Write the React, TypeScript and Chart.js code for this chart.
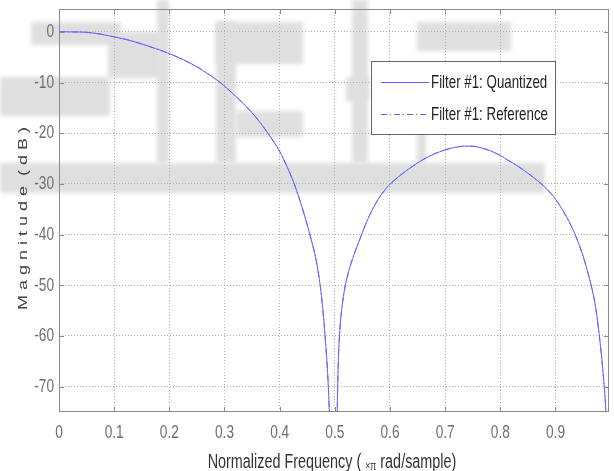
import React, { useEffect, useRef } from 'react';
import { Chart, registerables } from 'chart.js';

Chart.register(...registerables);

// ---- data ----
const freq = [0, 0.025, 0.05, 0.075, 0.1, 0.125, 0.15, 0.175, 0.2, 0.225, 0.25, 0.27, 0.285, 0.3, 0.32, 0.34, 0.358, 0.38, 0.4, 0.415, 0.425, 0.435, 0.446, 0.456, 0.466, 0.474, 0.4805, 0.485, 0.488, 0.49, 0.4925, 0.4975, 0.502, 0.5045, 0.506, 0.509, 0.513, 0.518, 0.525, 0.535, 0.545, 0.555, 0.566, 0.58, 0.598, 0.62, 0.64, 0.66, 0.68, 0.7, 0.715, 0.73, 0.745, 0.76, 0.78, 0.8, 0.815, 0.833, 0.85, 0.87, 0.885, 0.9, 0.912, 0.924, 0.936, 0.948, 0.958, 0.966, 0.973, 0.979, 0.984, 0.988, 0.991, 0.994, 0.997];
const magQuantized = [0, -0.02, -0.1, -0.45, -1.0, -1.6, -2.4, -3.3, -4.3, -5.5, -6.9, -8.3, -9.4, -10.7, -12.7, -14.8, -17.0, -20.2, -23.6, -27.0, -29.6, -32.7, -36.6, -40.5, -45, -50.5, -57.5, -64, -69.5, -75, -85, -95, -95, -74, -66, -59, -54.3, -50.6, -47.3, -43.9, -41.0, -38.2, -35.5, -32.8, -30.3, -28.2, -26.6, -25.2, -24.1, -23.3, -22.85, -22.6, -22.55, -22.75, -23.4, -24.4, -25.4, -26.6, -27.9, -29.6, -31.1, -33, -35, -37.3, -40.1, -43.6, -47.2, -50.6, -54.5, -59.5, -64.5, -69.5, -74, -80, -88];
const magReference = [0, -0.02, -0.1, -0.45, -1.0, -1.6, -2.4, -3.3, -4.3, -5.5, -6.9, -8.3, -9.4, -10.7, -12.7, -14.8, -17.0, -20.2, -23.6, -27.0, -29.6, -32.7, -36.6, -40.5, -45, -50.5, -57.5, -64, -69.5, -75, -85, -95, -95, -74, -66, -59, -54.3, -50.6, -47.3, -43.9, -41.0, -38.2, -35.5, -32.8, -30.3, -28.2, -26.6, -25.2, -24.1, -23.3, -22.85, -22.6, -22.55, -22.75, -23.4, -24.4, -25.4, -26.6, -27.9, -29.6, -31.1, -33, -35, -37.3, -40.1, -43.6, -47.2, -50.6, -54.5, -59.5, -64.5, -69.5, -74, -80, -88];
const seriesLabels = ['Filter #1: Quantized', 'Filter #1: Reference'];
const xTickValues = [0, 0.1, 0.2, 0.3, 0.4, 0.5, 0.6, 0.7, 0.8, 0.9];
const xTickLabels = ['0', '0.1', '0.2', '0.3', '0.4', '0.5', '0.6', '0.7', '0.8', '0.9'];
const yTickValues = [0, -10, -20, -30, -40, -50, -60, -70];
const yTickLabels = ['0', '-10', '-20', '-30', '-40', '-50', '-60', '-70'];
const xTitleParts = ['Normalized Frequency ( ', '\u00d7\u03c0', ' rad/sample)'];
const yTitle = 'M a g n i t u d e  ( d B )';

// decorative background watermark (light grey blocks)
const watermark: number[][] = [
  [31, 22, 90, 23],
  [108, 32, 52, 46],
  [157, 0, 12, 163],
  [0, 77, 110, 39],
  [0, 163, 545, 30],
  [216, 22, 87, 42],
  [216, 22, 20, 141],
  [236, 111, 67, 26],
  [352, 0, 16, 163],
  [346, 77, 22, 24],
  [417, 22, 94, 29],
  [417, 128, 9, 35],
];

const FONT = "'Liberation Sans', Arial, sans-serif";
const SX = 0.72;
const LINE_COLOR = '#6262ff';

function squishText(ctx: CanvasRenderingContext2D, text: string, x: number, y: number, align: CanvasTextAlign, baseline: CanvasTextBaseline, size: number, color: string) {
  ctx.save();
  ctx.translate(x, y);
  ctx.scale(SX, 1);
  ctx.font = `${size}px ${FONT}`;
  ctx.fillStyle = color;
  ctx.textAlign = align;
  ctx.textBaseline = baseline;
  ctx.fillText(text, 0, 0);
  ctx.restore();
}

const matlabPlugin = {
  id: 'matlabLook',
  beforeDraw(chart: any) {
    const ctx = chart.ctx as CanvasRenderingContext2D;
    ctx.save();
    ctx.fillStyle = '#ffffff';
    ctx.fillRect(0, 0, chart.width, chart.height);
    ctx.filter = 'blur(2px)';
    ctx.fillStyle = '#dfdfdf';
    watermark.forEach(([x, y, w, h]) => ctx.fillRect(x, y, w, h));
    ctx.filter = 'none';
    ctx.restore();
  },
  afterDatasetsDraw(chart: any) {
    const ctx = chart.ctx as CanvasRenderingContext2D;
    const { left, right, top, bottom } = chart.chartArea;
    const xs = chart.scales.x;
    const ys = chart.scales.y;
    ctx.save();
    // axes box
    ctx.strokeStyle = '#8a8a8a';
    ctx.lineWidth = 1;
    ctx.setLineDash([]);
    ctx.strokeRect(left + 0.5, top + 0.5, right - left - 1, bottom - top - 1);
    // inward tick marks
    ctx.beginPath();
    xs.ticks.forEach((t: any) => {
      const px = Math.round(xs.getPixelForValue(t.value)) + 0.5;
      ctx.moveTo(px, bottom); ctx.lineTo(px, bottom - 5);
      ctx.moveTo(px, top); ctx.lineTo(px, top + 5);
    });
    ys.ticks.forEach((t: any) => {
      const py = Math.round(ys.getPixelForValue(t.value)) + 0.5;
      ctx.moveTo(left, py); ctx.lineTo(left + 5, py);
      ctx.moveTo(right, py); ctx.lineTo(right - 5, py);
    });
    ctx.stroke();
    ctx.restore();

    // tick labels
    xs.ticks.forEach((t: any, i: number) => {
      const px = xs.getPixelForValue(t.value);
      squishText(ctx, xTickLabels[i], px, 438, 'center', 'alphabetic', 19, '#6e6e6e');
    });
    ys.ticks.forEach((t: any, i: number) => {
      const py = ys.getPixelForValue(t.value);
      squishText(ctx, yTickLabels[i], 54, py, 'right', 'middle', 19, '#6e6e6e');
    });

    // x title (with small x-pi)
    ctx.save();
    ctx.font = `20px ${FONT}`;
    const w1 = ctx.measureText(xTitleParts[0]).width;
    const w3 = ctx.measureText(xTitleParts[2]).width;
    ctx.font = `12px ${FONT}`;
    const w2 = ctx.measureText(xTitleParts[1]).width;
    ctx.restore();
    const total = (w1 + w2 + w3) * SX;
    const cx = (left + right) / 2 - 2;
    let x0 = cx - total / 2;
    squishText(ctx, xTitleParts[0], x0, 468, 'left', 'alphabetic', 20, '#333333');
    x0 += w1 * SX;
    squishText(ctx, xTitleParts[1], x0, 470, 'left', 'alphabetic', 12, '#333333');
    x0 += w2 * SX;
    squishText(ctx, xTitleParts[2], x0, 468, 'left', 'alphabetic', 20, '#333333');

    // y title (rotated)
    ctx.save();
    ctx.translate(26.5, (top + bottom) / 2 + 8);
    ctx.scale(SX, 1);
    ctx.rotate(-Math.PI / 2);
    ctx.font = `18px ${FONT}`;
    ctx.fillStyle = '#444444';
    ctx.textAlign = 'center';
    ctx.textBaseline = 'alphabetic';
    ctx.fillText(yTitle, 0, 0);
    ctx.restore();

    // legend box
    ctx.save();
    const lx = 371.5, ly = 61.5, lw = 184, lh = 73;
    ctx.fillStyle = '#ffffff';
    ctx.fillRect(lx, ly, lw, lh);
    ctx.strokeStyle = '#666666';
    ctx.lineWidth = 1;
    ctx.strokeRect(lx, ly, lw, lh);
    const rows = [82, 114];
    chart.data.datasets.forEach((ds: any, i: number) => {
      const ry = rows[i] + 0.5;
      ctx.strokeStyle = ds.borderColor;
      ctx.lineWidth = ds.borderWidth;
      ctx.setLineDash(ds.borderDash || []);
      ctx.beginPath();
      ctx.moveTo(381, ry);
      ctx.lineTo(429, ry);
      ctx.stroke();
    });
    ctx.restore();
    chart.data.datasets.forEach((ds: any, i: number) => {
      squishText(ctx, ds.label, 431, rows[i] + 1, 'left', 'middle', 18.5, '#1e1e1e');
    });
  },
};

export default function App() {
  const canvasRef = useRef<HTMLCanvasElement | null>(null);

  useEffect(() => {
    if (!canvasRef.current) return;
    const chart = new Chart(canvasRef.current, {
      type: 'line',
      data: {
        datasets: [
          {
            label: seriesLabels[0],
            data: freq.map((f, i) => ({ x: f, y: magQuantized[i] })),
            borderColor: LINE_COLOR,
            borderWidth: 1,
            pointRadius: 0,
            fill: false,
            cubicInterpolationMode: 'monotone',
          },
          {
            label: seriesLabels[1],
            data: freq.map((f, i) => ({ x: f, y: magReference[i] })),
            borderColor: LINE_COLOR,
            borderWidth: 1,
            borderDash: [6, 3, 1, 3],
            pointRadius: 0,
            fill: false,
            cubicInterpolationMode: 'monotone',
          },
        ],
      },
      options: {
        animation: false,
        responsive: true,
        maintainAspectRatio: false,
        layout: { padding: { left: 0, right: 5, top: 9, bottom: 0 } },
        plugins: { legend: { display: false }, tooltip: { enabled: false } },
        scales: {
          x: {
            type: 'linear',
            min: 0,
            max: 0.997,
            afterBuildTicks: (scale: any) => {
              scale.ticks = xTickValues.map((v) => ({ value: v }));
            },
            afterFit: (scale: any) => {
              scale.height = 59;
            },
            ticks: { display: false },
            grid: { color: '#b0b0b0', lineWidth: 1, drawTicks: false },
            border: { display: false, dash: [1, 2] },
            title: { display: false },
          },
          y: {
            type: 'linear',
            min: -75,
            max: 4.5,
            afterBuildTicks: (scale: any) => {
              scale.ticks = yTickValues.map((v) => ({ value: v }));
            },
            afterFit: (scale: any) => {
              scale.width = 59;
            },
            ticks: { display: false },
            grid: { color: '#b0b0b0', lineWidth: 1, drawTicks: false },
            border: { display: false, dash: [1, 2] },
            title: { display: false },
          },
        },
      },
      plugins: [matlabPlugin],
    });
    return () => chart.destroy();
  }, []);

  return (
    <div style={{ position: 'fixed', left: 0, top: 0, width: 614, height: 471, background: '#ffffff' }}>
      <canvas ref={canvasRef} />
    </div>
  );
}
